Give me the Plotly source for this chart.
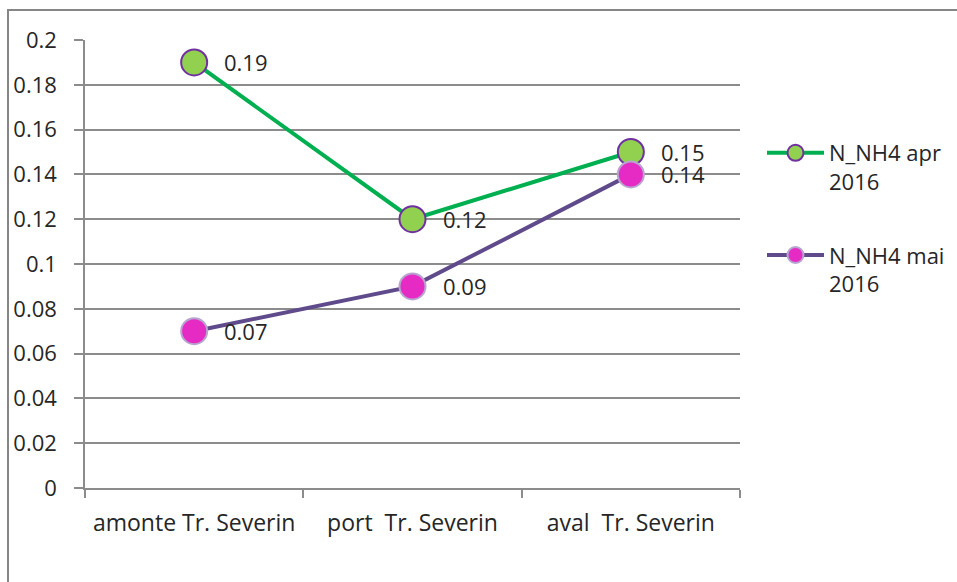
import plotly.graph_objects as go

# Sampling points along the Danube at Drobeta-Turnu Severin
categories = ["amonte Tr. Severin", "port  Tr. Severin", "aval  Tr. Severin"]
nh4_apr_2016 = [0.19, 0.12, 0.15]
nh4_mai_2016 = [0.07, 0.09, 0.14]
series_names = ["N_NH4 apr<br>2016", "N_NH4 mai<br>2016"]
y_ticks = [0, 0.02, 0.04, 0.06, 0.08, 0.1, 0.12, 0.14, 0.16, 0.18, 0.2]
y_tick_text = ["0", "0.02", "0.04", "0.06", "0.08", "0.1", "0.12", "0.14", "0.16", "0.18", "0.2"]

FONT = "Open Sans"
FS = 22
GRID = "#8c8c8c"
TXT = "#262626"

series = [
    (nh4_apr_2016, series_names[0], "#00b050", "#92d050", "#7030a0"),
    (nh4_mai_2016, series_names[1], "#5f4b8b", "#e62bc5", "#b7a4cf"),
]

fig = go.Figure()
for i, (vals, name, lc, mc, ml) in enumerate(series):
    fig.add_trace(go.Scatter(
        x=categories, y=vals, name=name, legendgroup=f"g{i}",
        mode="lines+markers",
        line=dict(color=lc, width=4),
        marker=dict(size=26, color=mc, line=dict(color=ml, width=2)),
        cliponaxis=False,
    ))
    # value labels to the right of each point
    for cat, v in zip(categories, vals):
        fig.add_annotation(x=cat, y=v, text=str(v), showarrow=False,
                           xanchor="left", yanchor="middle", xshift=28,
                           font=dict(family=FONT, size=FS, color=TXT))

# Outer chart border
fig.add_shape(type="rect", xref="paper", yref="paper",
              x0=(8 - 85) / 655, x1=(965 - 85) / 655,
              y0=(488 - 590) / 448, y1=(488 - 10) / 448,
              line=dict(color="#868686", width=2), fillcolor="rgba(0,0,0,0)",
              layer="below")

fig.update_xaxes(
    type="category", range=[-0.5, 2.5],
    showgrid=False, showline=True, linecolor=GRID, linewidth=1.5,
    ticks="outside", tickson="boundaries", ticklen=8, tickcolor=GRID, tickwidth=1.5,
    tickfont=dict(family=FONT, size=23, color=TXT), ticklabelstandoff=14,
)
fig.update_yaxes(
    range=[0, 0.2], tickvals=y_ticks, ticktext=y_tick_text,
    showgrid=True, gridcolor=GRID, gridwidth=1.5,
    showline=True, linecolor=GRID, linewidth=1.5,
    ticks="outside", ticklen=9, tickcolor=GRID, tickwidth=1.5,
    tickfont=dict(family=FONT, size=FS, color=TXT), ticklabelstandoff=13,
    zeroline=False,
)

fig.update_layout(
    width=957, height=582,
    margin=dict(l=85, r=217, t=40, b=94, autoexpand=False),
    paper_bgcolor="white", plot_bgcolor="white",
    showlegend=True,
    legend=dict(x=(762 - 85) / 655, y=(488 - 132) / 448, xanchor="left", yanchor="top",
                font=dict(family=FONT, size=22, color=TXT), valign="top",
                itemwidth=57, tracegroupgap=42, bgcolor="rgba(0,0,0,0)"),
)

fig.write_html("out.html")
